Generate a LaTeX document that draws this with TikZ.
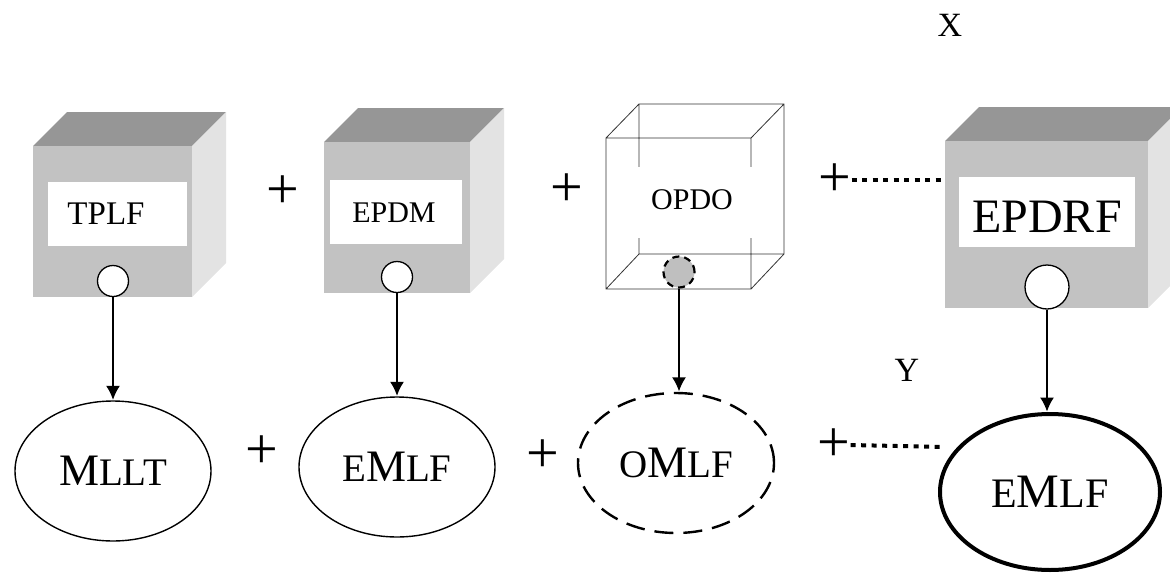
\documentclass[tikz,border=0pt]{standalone}
\usepackage{fontspec}
\setmainfont{Liberation Serif}
\usetikzlibrary{shapes.geometric,arrows.meta}
\newcommand{\upM}{{\fontsize{45}{45}\selectfont M}}

\begin{document}
\begin{tikzpicture}[x=1pt,y=-1pt,>={Latex[length=14pt,width=14pt]},
  front/.style={fill=black!24},
  topface/.style={fill=black!41},
  side/.style={fill=black!11},
  tag/.style={inner sep=0pt,font=\fontsize{31}{31}\selectfont},
  port/.style={circle,draw,fill=white,line width=1.3pt,minimum size=31pt,inner sep=0pt},
  result/.style={ellipse,draw,line width=1.4pt,minimum width=196pt,minimum height=140pt,inner sep=0pt,font=\fontsize{39}{39}\selectfont},
  plus/.style={inner sep=0pt,font=\fontsize{58}{58}\selectfont},
  link/.style={->,line width=1.4pt,shorten >=0.5pt},
  dots/.style={line width=4pt,dash pattern=on 5pt off 5.5pt}]
\useasboundingbox (0,0) rectangle (1170,573);
% shaded boxes, front face l/r/t/b
\foreach \l/\r/\t/\b in {33/192/146/297, 324/470/142/293, 945/1148/141/308}{
  \fill[topface] (\l,\t) -- ++(34,-34) -- (\r+34,\t-34) -- (\r,\t) -- cycle;
  \fill[side] (\r,\t) -- ++(34,-34) -- (\r+34,\b-34) -- (\r,\b) -- cycle;
  \fill[front] (\l,\t) rectangle (\r,\b);
}
\fill[white] (48,182) rectangle (187,246);
\fill[white] (330,180) rectangle (462,244);
\fill[white] (959,177) rectangle (1135,247);
% open box
\draw[black!80,line width=0.8pt] (639,104) rectangle (784,254) (606,138) rectangle (751,289)
  (606,138)--(639,104) (751,138)--(784,104) (751,289)--(784,254) (606,289)--(639,254);
\fill[white] (616,167) rectangle (760,238);
\node[tag,font=\fontsize{33}{33}\selectfont] (tplf) at (106,214) {TPLF};
\node[tag,font=\fontsize{30}{30}\selectfont] (epdm) at (394,213) {EPDM};
\node[tag,font=\fontsize{30}{30}\selectfont] (opdo) at (692,200) {OPDO};
\node[tag,font=\fontsize{48}{48}\selectfont] (epdrf) at (1047,217) {EPDRF};

\node[port] (c1) at (113,281) {};
\node[port] (c2) at (397,277) {};
\node[port,fill=black!25,dashed,line width=2.2pt,dash pattern=on 7pt off 5pt] (c3) at (679,272) {};
\node[port,minimum size=44pt] (c4) at (1047,287) {};

\node[result] (e1) at (113,471) {\upM LLT};
\node[result] (e2) at (397,467) {E\upM LF};
\node[result,dashed,line width=2.4pt,dash pattern=on 19pt off 10pt] (e3) at (676,463) {O\upM LF};
\node[result,line width=4pt,minimum width=220pt,minimum height=156pt,
  font=\fontsize{42}{42}\selectfont] (e4) at (1050,492) {E{\fontsize{48}{48}\selectfont M}LF};

\draw[link] (c1) -- (e1);
\draw[link] (c2) -- (e2);
\draw[link] (c3) -- (c3 |- e3.north);
\draw[link] (c4) -- (c4 |- e4.north);

\node[plus] (p1) at (283,192) {+};
\node[plus] (p2) at (567,190) {+};
\node[plus] (p3) at (835,180) {+};
\node[plus] (q1) at (262,452) {+};
\node[plus] (q2) at (543,456) {+};
\node[plus] (q3) at (834,445) {+};
\coordinate (d1) at (944,180);
\coordinate (d2) at (944,447);
\draw[dots] (p3.east) -- (d1);
\draw[dots] (q3.east) -- (d2);

\node[tag,font=\fontsize{34}{34}\selectfont] (x) at (950,25) {X};
\node[tag,font=\fontsize{34}{34}\selectfont] (y) at (907,370) {Y};
\end{tikzpicture}
\end{document}
